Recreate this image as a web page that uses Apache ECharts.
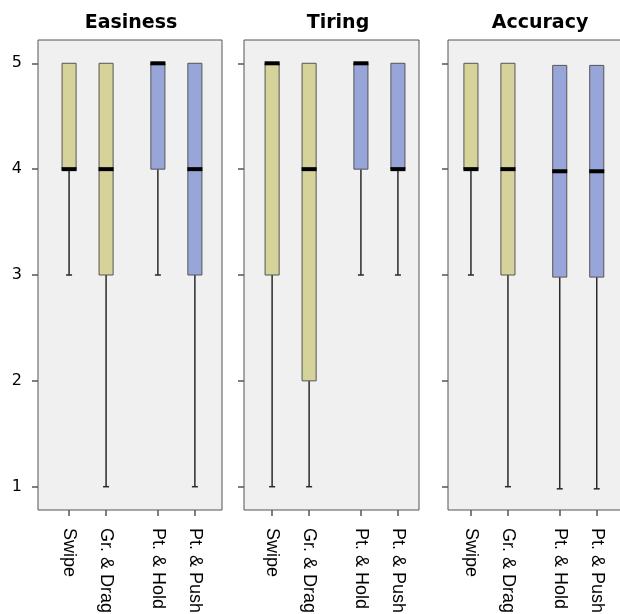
<!DOCTYPE html>
<html><head><meta charset="utf-8">
<script src="https://cdn.jsdelivr.net/npm/echarts@6/dist/echarts.min.js"></script>
<style>html,body{margin:0;padding:0;background:#fff}#c{width:620px;height:614px}</style>
</head><body><div id="c"></div>
<script>
const categories = ["Swipe", "Gr. & Drag", "Pt. & Hold", "Pt. & Push"];
const panelTitles = ["Easiness", "Tiring", "Accuracy"];
const yTicks = [1, 2, 3, 4, 5];
// each box: [min, Q1, median, Q3, max]
const easiness = [[3, 4, 4, 5, 5], [1, 3, 4, 5, 5], [3, 4, 5, 5, 5], [1, 3, 4, 5, 5]];
const tiring   = [[1, 3, 5, 5, 5], [1, 2, 4, 5, 5], [3, 4, 5, 5, 5], [3, 4, 4, 5, 5]];
const accuracy = [[3, 4, 4, 5, 5], [1, 3, 4, 5, 5], [0.98, 2.98, 3.98, 4.98, 4.98], [0.98, 2.98, 3.98, 4.98, 4.98]];
const boxColors = ["#d5d29a", "#d5d29a", "#98a5d8", "#98a5d8"];

const panelsData = [easiness, tiring, accuracy];
// layout
const UNIT = 37;
const panels = [
  { left: 38, width: 184, xMin: -0.84, titleX: 126 },
  { left: 244, width: 175, xMin: -0.76, titleX: 333 },
  { left: 448, width: 182, xMin: -0.62, titleX: 535 }
];
const GROUP_GAP = 0.4;
const slotPos = categories.map((c, i) => i + (i >= 2 ? GROUP_GAP : 0));
function nameAt(v) {
  let best = 0;
  slotPos.forEach((p, i) => { if (Math.abs(p - v) < Math.abs(slotPos[best] - v)) best = i; });
  return categories[best];
}

function renderBox(params, api) {
  const x = api.value(0);
  const v = [1, 2, 3, 4, 5].map(i => api.value(i));
  const pMin = api.coord([x, v[0]]), pQ1 = api.coord([x, v[1]]), pMd = api.coord([x, v[2]]),
        pQ3 = api.coord([x, v[3]]), pMax = api.coord([x, v[4]]);
  const w = api.size([1, 0])[0] * 0.38;
  const cx = pMd[0];
  const children = [];
  const wl = { stroke: '#2a2a2a', lineWidth: 1.5 };
  if (pMin[1] - pQ1[1] > 0.5) {
    children.push({ type: 'line', shape: { x1: cx, y1: pQ1[1], x2: cx, y2: pMin[1] }, style: wl });
    children.push({ type: 'line', shape: { x1: cx - 3, y1: pMin[1], x2: cx + 3, y2: pMin[1] }, style: wl });
  }
  if (pQ3[1] - pMax[1] > 0.5) {
    children.push({ type: 'line', shape: { x1: cx, y1: pQ3[1], x2: cx, y2: pMax[1] }, style: wl });
    children.push({ type: 'line', shape: { x1: cx - 3, y1: pMax[1], x2: cx + 3, y2: pMax[1] }, style: wl });
  }
  children.push({
    type: 'rect',
    shape: { x: cx - w / 2, y: pQ3[1], width: w, height: pQ1[1] - pQ3[1] },
    style: { fill: boxColors[params.dataIndex], stroke: '#555', lineWidth: 1 }
  });
  children.push({
    type: 'rect',
    shape: { x: cx - w / 2 - 0.5, y: pMd[1] - 2, width: w + 1, height: 4 },
    style: { fill: '#000' }
  });
  return { type: 'group', children };
}

const grid = [], xAxis = [], yAxis = [], series = [], title = [];
panels.forEach((p, k) => {
  grid.push({ left: p.left, width: p.width, top: 40, height: 470, show: true,
    outerBoundsMode: 'none', containLabel: false,
    backgroundColor: '#f0f0f0', borderColor: '#555', borderWidth: 1 });
  title.push({ text: panelTitles[k], left: p.titleX, top: 9, textAlign: 'center',
    textStyle: { fontFamily: 'DejaVu Sans', fontWeight: 'bold', fontSize: 19, color: '#000' } });
  xAxis.push({
    type: 'value', gridIndex: k, min: p.xMin, max: p.xMin + p.width / UNIT,
    splitLine: { show: false },
    axisLine: { show: false, onZero: false },
    axisTick: { show: true, customValues: slotPos, length: 6, lineStyle: { color: '#555', width: 1.5 } },
    axisLabel: { show: true, customValues: slotPos, formatter: v => nameAt(v), rotate: -90, margin: 18,
      fontFamily: 'Liberation Sans', fontSize: 18, color: '#000' }
  });
  yAxis.push({
    type: 'value', gridIndex: k, min: 0.78, max: 5.22,
    splitLine: { show: false },
    axisLine: { show: false, onZero: false },
    axisTick: { show: true, customValues: yTicks, length: 6, lineStyle: { color: '#555', width: 1.5 } },
    axisLabel: { show: k === 0, customValues: yTicks, margin: 16,
      fontFamily: 'DejaVu Sans', fontSize: 16, color: '#000' }
  });
  series.push({
    type: 'custom', xAxisIndex: k, yAxisIndex: k, renderItem: renderBox,
    encode: { x: 0, y: [1, 2, 3, 4, 5] },
    data: panelsData[k].map((b, i) => [slotPos[i]].concat(b))
  });
});

const chart = echarts.init(document.getElementById('c'), null, { renderer: 'canvas' });
chart.setOption({ animation: false, backgroundColor: '#fff', title, grid, xAxis, yAxis, series });
</script></body></html>
